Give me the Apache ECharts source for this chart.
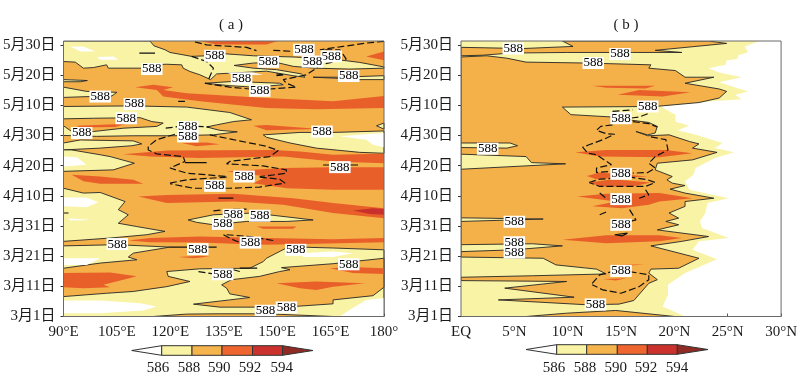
<!DOCTYPE html>
<html><head><meta charset="utf-8">
<script src="https://cdn.jsdelivr.net/npm/echarts@6/dist/echarts.min.js"></script>
<style>html,body{margin:0;padding:0;background:#fff}#c{width:800px;height:386px}</style>
</head><body><div id="c"></div>
<script>
// every pair is [longitude or latitude, days since 1 March]
const dayTicks=[0,10,20,30,40,50,60,70,80,90];
const dayLabels=['3月1日','3月11日','3月21日','3月31日','4月10日','4月20日','4月30日','5月10日','5月20日','5月30日'];
const lonTicks=[90,105,120,135,150,165,180];
const lonLabels=['90°E','105°E','120°E','135°E','150°E','165°E','180°'];
const latTicks=[0,5,10,15,20,25,30];
const latLabels=['EQ','5°N','10°N','15°N','20°N','25°N','30°N'];
const barTicks=['586','588','590','592','594'];

const yellowA=[
[[90,91.3],[114.3,91.3],[115.4,89.7],[118.5,88.4],[119.9,87.5],[126,86.2],[130.2,86.4],[134.9,87.1],[143.3,86.4],[154.5,86],[165.7,85.3],[173.2,84.2],[180,82.7],[180,82.3],[170.4,82],[160.6,82.3],[154.5,82.9],[149.8,84.2],[143.3,84],[137.9,83.2],[143.3,82.3],[149.8,81.8],[156.8,80.4],[157.8,79.3],[154.5,79.8],[147,81.3],[140.9,80.9],[133,80.4],[131.3,78.5],[128.3,80.1],[125.5,81.2],[123.6,82.3],[123.2,83.4],[119,83.6],[114.3,83.4],[112,82.3],[102.6,82.3],[102.1,83.4],[98.4,82.5],[95.6,82.3],[93.3,84.3],[90,84.5]],
[[129.7,77.3],[137.7,77.9],[150.7,77.3],[151.7,76.8],[143.3,76],[136.7,76.5]],
[[160.1,79.3],[167.6,79.3],[180,79.8],[180,78.5],[172.7,78.5],[167.6,78.9]],
[[90,78.5],[96.7,78.2],[94.7,77.8],[90,77.8]],
[[90,76],[96.5,74.6],[105,74.3],[103.6,73.1],[97.5,72.9],[90,72.6]],
[[90,69.6],[109.6,69.8],[124.6,69.4],[136.7,67.6],[142.8,65.2],[137.7,64.6],[133,63.5],[130.2,62.8],[133.9,61.7],[138.8,61.2],[132.1,60.2],[120.8,59.9],[109.6,59.9],[99.3,59.7],[90,60]],
[[90,57.5],[94.7,58.5],[109.6,58.2],[112,57.2],[109.2,56.6],[100.3,55.8],[90,55.2]],
[[90,55.2],[92.3,55.2],[100.3,53.6],[103.1,53],[109.9,50.8],[104,48.6],[90,48.1]],
[[146.1,60.2],[156.4,61],[165.7,61],[180,61.5],[180,54.1],[173.2,54.4],[161,55.8],[153.6,57.5],[147,59.4]],
[[177.9,63.2],[180,64.1],[180,62.1]],
[[90,42.5],[95.6,40.9],[100.3,41.1],[107.3,38.1],[105.4,35.4],[108.2,33.7],[105.4,30.9],[110.6,29.8],[118.5,28.2],[113.4,27.1],[103.1,26],[90,24.9]],
[[125,32],[132.1,33.7],[143.3,34.3],[160.1,32],[152.6,31.5],[141.4,31.5],[132.1,30.4],[127.4,31.2]],
[[90,23.4],[105,23.8],[119.9,23],[109.6,21],[108.2,19.7],[110.6,18.8],[100.3,17.7],[90,16]],
[[180,22.1],[165.7,22.7],[156.4,23],[152.6,22.7],[147,19.3],[146.1,18.2],[142.3,16],[128.3,15.8],[119,14.9],[119.4,13.3],[125.5,11.6],[119,9.9],[109.6,8.3],[102.1,7.7],[90,6.6],[90,0],[180,0]]
];
const whiteA=[
[[91.9,89.5],[95.6,89.5],[98.9,87.8],[94.7,87.8]],
[[99.3,86],[104,86.2],[105.4,85.1],[100.3,85.1]],
[[135.8,80.9],[143.3,80.9],[146.1,80.1],[137.7,80]],
[[167.6,59.7],[176.9,60.6],[180,60.8],[180,56.1],[176.9,56.9],[175,58.6]],
[[90,53],[93.7,52.8],[96.5,50.3],[90,49.7]],
[[90,39.4],[96.5,39.4],[99.8,37.9],[96.5,36.2],[90,36.5]],
[[91.4,32.6],[97.9,32],[91.9,31.8]],
[[90,19.3],[100.3,19.3],[96.5,17.1],[90,17.1]],
[[156.4,21],[165.7,21.5],[171.3,21],[165.7,19.7],[157.3,19.7]],
[[90,5.3],[100.3,5.3],[111.5,4.4],[116.2,3.3],[112.4,2],[100.3,1.1],[90,1.1]],
[[170.4,2.2],[175,5.5],[180,6.1],[180,0],[167.6,0]]
];
const orangeA=[
[[90,65.5],[98.4,65.7],[111.5,65.9],[114.8,64.6],[118,64.1],[116.2,63],[106.8,62.4],[98.4,61.3],[92.3,61.3],[90,63.2]],
[[151.2,16.2],[165.7,17.5],[180,19.3],[180,9.7],[176.9,6.9],[165.7,5.5],[165.7,4.2],[154.5,3.3],[143.3,3.1],[133.9,3.1],[126.5,4.1],[136.7,5.5],[142.3,6.3],[136.7,7.5],[135.8,9.4],[134.4,10.5],[137.2,12.2],[145.1,13.3],[150.7,14.9],[153.6,15.5]],
[[115.2,0],[124.6,0.8],[133.9,0.9],[147,0.9],[165.7,0]]
];
const redA=[
[[128.3,91.3],[150.3,91.3],[147,90.1],[133,90.1]],
[[175,86.2],[180,87.8],[180,84.9]],
[[110.1,76],[115.2,76.8],[120.8,76],[118,75.1],[124.6,74],[147,72.4],[165.7,71.3],[180,73.1],[180,69.1],[161,68.7],[147,69.1],[128.3,71.3],[118,72.9],[116.2,75.1]],
[[93.7,63.2],[107.8,63.9],[104.5,62.8],[94.7,62.6]],
[[143.3,63.2],[147,63.5],[162,62.1],[147,61.7]],
[[123.2,57.5],[130.2,57.7],[133.9,57.1],[127.4,56.4]],
[[106.8,53.8],[119,55],[148.9,55.2],[156.4,54.7],[165.7,53.6],[180,53.9],[180,50.8],[165.7,51.4],[151.7,53],[128.3,52.5],[114.3,53]],
[[135.8,48.1],[151.7,49.2],[165.7,49.5],[180,49.5],[180,42],[165.7,42],[152.6,42.5],[143.3,44.2],[147,46.4]],
[[92.3,47],[100.3,46.4],[109.6,45.3],[112.4,44],[100.3,44],[95.6,44.8]],
[[111,39.8],[119,40.3],[137.7,40.7],[154.5,39.2],[165.7,37.6],[180,35.9],[180,32.6],[165.7,34.3],[151.7,37],[137.7,38.1],[119,37.6]],
[[144.2,29.8],[155.4,29.8],[154.5,29.1],[146.1,29.1]],
[[108.2,25.2],[114.3,26],[128.3,26.5],[147,26],[165.7,25.6],[180,26],[180,24.6],[161,24.1],[147,23.8],[137.7,24.1],[128.3,24.5],[114.3,24.6]],
[[122.2,19.7],[128.3,20.1],[131.1,19.9],[126.5,19.3]],
[[90,14.4],[103.1,14.6],[110.6,13.3],[106.8,12.2],[101.2,10.5],[103.1,9.7],[95.6,9.4],[90,9.7]],
[[164.8,16],[170.4,16.4],[180,16],[180,14.1],[171.3,14.4]],
[[149.8,11],[161,11.6],[174.6,11],[165.7,9.9],[161,8.8],[156.4,9.4]]
];
const darkA=[[[171.3,35.1],[176.9,35.9],[180,35.6],[180,33.7],[176,34]]];
const dashedA=[
[[126.9,91],[130.2,90],[141.4,89.2],[144.2,88.1]],
[[148.9,88.2],[155.4,87.8]],
[[180,91.2],[175,90.6],[168.5,89.5],[162,88.4],[167.6,88.4],[169.4,85.3],[162,83.4],[161,82.3],[158.2,80.1],[151.7,78.5],[152.6,77.3],[155.4,76],[147.9,75.4]],
[[126,86.2],[130.2,84.5],[132.1,82.3],[130.7,78.5]],
[[129.7,77.3],[136.7,76],[142.3,75.4]],
[[118.7,62.4],[122.7,63]],
[[127.4,63],[131.1,62.8]],
[[121.3,60.4],[116.2,58.6],[113.8,56.4],[113.8,55.2],[116.2,53.9],[123.6,53],[124.1,51.4],[119.9,49.2],[124.6,47.5],[135.8,46.4]],
[[131.1,60.2],[137.7,58.6],[147,56.4],[150.3,55],[147.9,53],[136.7,51.4],[135.8,50.6],[146.1,49.9],[152.6,48.6],[152.6,47.5],[147,46.6],[145.1,46.4]],
[[119.9,44.2],[124.6,45.3],[135.8,46.2]],
[[145.1,46.2],[150.7,45.5],[152.2,44.2],[145.1,42.9],[136.7,42.5],[126.5,42.5],[119.9,44]],
[[132.1,35],[134.9,35.4],[141.4,35.6]],
[[134.9,27.1],[137.7,25.4],[140,24.3]],
[[135.8,27.1],[142.3,26.5],[149.3,25.1]],
[[127.9,14.9],[132.1,14.1]],
[[137.7,15.5],[139.5,14.9]]
];
const solidA=[
[[149.8,80.4],[151.7,80.1],[149.8,79.8]],
[[111.3,87.3],[115.7,87.3]],
[[122.2,71.3],[124.1,71.3]],
[[124.1,51],[130.2,51]],
[[162.9,50.2],[172.7,50.2]],
[[133.5,39.2],[137.7,39.2]],
[[90,34.3],[91.4,34.3]],
[[119.9,23],[133,23]],
[[139.5,16],[144.4,16]]
];
const labelsA=[[132.5,86.4],[157.5,88.4],[165.2,86.2],[159.9,84.5],[147.5,84.4],[114.8,82],[140,78.8],[145.1,74.8],[170.1,79.7],[100.3,72.9],[109.9,70.4],[107.6,65.7],[95.1,60.8],[124.9,62.8],[124.9,59.7],[162.6,61.3],[167.6,49.5],[140.7,46.4],[132.5,43.3],[137.7,33.7],[145.1,33.4],[134.7,30.7],[142.5,24.5],[105.1,24],[127.7,22.3],[155.2,22.1],[170.1,17.3],[134.7,14],[146.7,1.9],[152.6,3]];

const yellowB=[
[[0,0],[0,91.3],[28,91.3],[26.6,89.5],[26.9,87.5],[26,86.7],[25.9,85.3],[24.9,84.9],[24.8,83.4],[23.2,82.3],[24.2,80.9],[26.3,79.3],[24.2,77.6],[26.9,74.6],[25.7,73.5],[26.3,72],[23.5,71.3],[18.7,69.6],[20.1,66.9],[20.1,64.6],[21.4,63.2],[20.3,61.7],[22,60.2],[24.5,57.5],[23.8,55.8],[25.6,54.4],[23.8,52.5],[22,49.2],[21.8,47],[21,44.8],[21.4,42],[25.1,39.2],[23.1,37.6],[22.9,34.3],[22.4,31.5],[22.6,29.3],[25.1,26],[22.3,24.9],[21.7,22.1],[24,19],[21,14.4],[19.4,10.5],[19.4,7.2],[18.9,3.3],[21,0]]
];
const orangeB=[
[[0,89.2],[5.8,88.8],[10.5,89.5],[9.5,91.3],[23.2,91.3],[24.9,90.5],[18.2,88.2],[20.7,87.5],[16.1,87.5],[9.9,87.5],[4.6,87.3],[2.1,86.6],[0,86.4]],
[[0,86],[2.4,86.4],[4.3,85.6],[6.1,84.3],[11.7,84],[17.8,83.4],[17.6,82.3],[20.1,81.5],[21,79.3],[23.7,79.3],[21,77.3],[24.2,75.4],[24.9,74.6],[24.2,72.4],[22.3,70.9],[18.2,69.6],[9.5,69.4],[10.3,66.9],[14.2,66.1],[16.1,65],[17.6,64.3],[18.4,63],[18.2,60.8],[17.5,60.2],[16.4,61.3],[17.5,59.9],[19.5,60.2],[21.4,58],[22.3,57.2],[21.7,55.8],[24,54.4],[21.7,51.9],[18.4,50.8],[18.2,48.6],[19.8,46.4],[19.3,45.3],[19.8,44.2],[21,43.4],[19.6,42.2],[21,40.9],[23.7,39.2],[21,38.1],[21,36.5],[19.5,34.3],[20.4,32.6],[19.2,31.5],[20.4,30.4],[18.4,28.7],[23.2,26.5],[20.7,24.9],[17.8,23.4],[22.3,19.3],[20.4,16],[17.8,15.7],[17.6,14.4],[18.4,12.2],[17.6,11],[16.2,5.3],[14.8,4.1],[11.7,3.9],[3.5,5.5],[10.6,6.4],[4.1,9.4],[9.9,11.6],[0,11.9],[0,13],[6.7,13.5],[13.6,14.1],[12.7,15.7],[8.9,17.1],[7.7,19.3],[0,19.7]],
[[6.1,0],[9.9,1.1],[14.5,2],[19.2,0.3],[20,0]]
];
const lensB=[
[[0,32.7],[7.7,32.3],[0,31.5]],
[[0,23.8],[6.7,24.1],[9.5,23.4],[4.9,22.1],[0,21.5]],
[[0,57.5],[4.6,57.5],[5.3,56.6],[4.3,55.8],[0,56]],
[[0,53.8],[6.1,53],[6.6,51],[9.8,50.6],[0,48.8]]
];
const redB=[
[[12.3,76.5],[18.2,76.5],[17.3,75.6],[13.6,75.8]],
[[14.7,73.5],[16.7,75.1],[21.5,74.3],[18.9,72.9]],
[[10.7,54.4],[13.6,55.2],[19.2,55.2],[21.7,54.1],[18.6,52.8],[13,53]],
[[11.8,46.6],[13,47.7],[17.5,46.4],[14.2,45.9],[12.7,45.5]],
[[12,44.4],[14.2,45.5],[17.8,44.4],[16.1,43.1],[13,43.1]],
[[10.9,39.8],[13.6,40.7],[18.6,40.9],[21.7,39.2],[18.6,38.1],[17.6,37],[15.1,35.9],[12.3,36.5],[14.5,38.1]],
[[9.5,25.4],[13.6,26.9],[18.6,26.9],[20.7,26],[18.6,24.9],[13.6,24.3]],
[[14.8,17.1],[17.2,17.3],[15.1,16.6]],
[[13.3,12.4],[15.5,12.7],[14.5,11.9]]
];
const dashedB=[
[[14.2,68],[16.1,68.5]],
[[17.5,67.2],[16.7,66.1],[15.8,65.7]],
[[14.2,63.5],[13.1,63],[12.7,61.7],[13.6,60.6],[14.4,60.4],[13.3,58.6],[12,56.9],[11.4,56.1],[11.9,54.1],[12.7,53.6],[14.1,50.3],[12.7,49.2],[12.7,47.7],[14.1,48.1]],
[[16.1,64.6],[17.6,63.9],[18.4,62.8]],
[[17.8,59.5],[19.2,58.6],[19.4,55.2],[18.2,53],[17.6,50.8],[18.2,49.2],[17.5,47.7],[16.1,47.5]],
[[12,44.4],[13,45.5],[15.8,46.2],[17.5,45.3],[18.2,44.4],[17.3,43.1],[13,43.1],[12,44.4]],
[[13,40.9],[13.6,39.2]],
[[17.3,42],[17.6,40.3],[16.7,39.2]],
[[13,33.7],[13.7,34.8]],
[[15.8,35.4],[16.4,32],[15.8,31.5]],
[[12.3,11],[13,13.8],[14.2,14.9]],
[[15.8,14.9],[17.6,13.8],[17.6,12.2],[16.7,9.9],[15,7.7],[13.3,8.8],[12.3,10.5]]
];
const solidB=[[[14.4,27.1],[15.6,27.6],[15.1,26.7],[14.4,27.1]]];
const labelsB=[[4.9,88.8],[14.9,87],[12.4,84],[17.5,69.6],[15,65.7],[2.5,55.6],[15,47.3],[15,38.9],[5,31.4],[15,30.4],[5,24.6],[5,21.2],[15,15.1],[12.6,4]];

const YELLOW='#F9F3A5',ORANGE='#F4B149',RED='#E95F2A',DARK='#C9302B',INK='#262626';
const FONT='"Liberation Serif","Noto Sans CJK SC",serif';
const TOP=91.3;

let zc=2;
function polys(list,fill,stroke,ax){
  return {type:'custom',coordinateSystem:'cartesian2d',xAxisIndex:ax,yAxisIndex:ax,z:zc++,silent:true,clip:true,
    animation:false,encode:{x:0,y:1},
    data:list.map(p=>p[0]),
    renderItem:(params,api)=>({type:'polygon',
      shape:{points:list[params.dataIndex].map(p=>api.coord(p))},
      style:{fill:fill,stroke:stroke||null,lineWidth:stroke?0.9:0}})};
}
function lines(list,dash,width,ax){
  return list.map(l=>({type:'line',xAxisIndex:ax,yAxisIndex:ax,data:l,showSymbol:false,symbol:'none',z:50,silent:true,animation:false,
    lineStyle:{color:'#111',width:width,type:dash?[7,3]:'solid'}}));
}
function labels(list,ax){
  return {type:'scatter',xAxisIndex:ax,yAxisIndex:ax,data:list,symbolSize:1,itemStyle:{color:'rgba(0,0,0,0)',opacity:1},z:60,silent:true,animation:false,
    label:{show:true,position:'inside',formatter:'588',color:'#000',fontFamily:FONT,fontSize:13,backgroundColor:'#fff',padding:[0,1,0,1],lineHeight:12},
    labelLayout:{hideOverlap:false}};
}
function frame(x0,x1,ax){
  return {type:'line',xAxisIndex:ax,yAxisIndex:ax,data:[[x0,0],[x1,0],[x1,TOP],[x0,TOP],[x0,0]],symbol:'none',clip:false,z:70,silent:true,animation:false,
    lineStyle:{color:'#6a6a6a',width:1}};
}
function xAxis(i,min,max,ticks,names){
  return {type:'value',gridIndex:i,min:min,max:max,splitLine:{show:false},
    axisLine:{show:false},
    axisTick:{show:true,inside:true,length:3,customValues:ticks,lineStyle:{color:'#555'}},
    axisLabel:{customValues:ticks,margin:8,color:'#1a1a1a',fontFamily:FONT,fontSize:15,formatter:v=>names[ticks.indexOf(v)]||''}};
}
function yAxis(i,margin){
  return {type:'value',gridIndex:i,min:0,max:TOP,splitLine:{show:false},
    axisLine:{show:false},
    axisTick:{show:true,length:3,customValues:dayTicks,lineStyle:{color:'#333'}},
    axisLabel:{customValues:dayTicks,margin:margin,color:'#1a1a1a',fontFamily:FONT,fontSize:15,formatter:v=>dayLabels[dayTicks.indexOf(v)]||''}};
}
function colorbar(x,tip0,tip1,y0,y1,labelX){
  const cols=[YELLOW,'#F6B44C','#EF6530','#CC322D'],g=[];
  const ym=(y0+y1)/2;
  g.push({type:'polygon',shape:{points:[[tip0,ym],[x[0],y0],[x[0],y1]]},style:{fill:'#fff',stroke:'#333',lineWidth:1}});
  cols.forEach((c,i)=>g.push({type:'rect',shape:{x:x[i],y:y0,width:x[i+1]-x[i],height:y1-y0},style:{fill:c,stroke:'#333',lineWidth:1}}));
  g.push({type:'polygon',shape:{points:[[tip1,ym],[x[4],y0],[x[4],y1]]},style:{fill:'#8F2A25',stroke:'#333',lineWidth:1}});
  barTicks.forEach((t,i)=>g.push({type:'text',x:labelX[i],y:368,style:{text:t,fill:'#1a1a1a',font:'15px '+FONT,textAlign:'center',textVerticalAlign:'middle'}}));
  return g;
}

const series=[
  polys(yellowA,YELLOW,INK,0),polys(whiteA,'#fff',null,0),polys(orangeA,ORANGE,INK,0),
  polys(redA,RED,null,0),polys(darkA,DARK,null,0),
  ...lines(dashedA,true,1.2,0),...lines(solidA,false,1.2,0),labels(labelsA,0),frame(90,180,0),
  polys(yellowB,YELLOW,null,1),polys(orangeB,ORANGE,INK,1),polys(lensB,YELLOW,INK,1),polys(redB,RED,null,1),
  ...lines(dashedB,true,1.2,1),...lines(solidB,false,1.2,1),labels(labelsB,1),frame(0,30,1)
];

const chart=echarts.init(document.getElementById('c'),null,{renderer:'canvas'});
chart.setOption({
  animation:false,backgroundColor:'#fff',
  title:[
    {text:'( a )',left:226,top:13,textAlign:'center',textStyle:{fontFamily:FONT,fontSize:15,fontWeight:'normal',color:'#1a1a1a'}},
    {text:'( b )',left:621,top:13,textAlign:'center',textStyle:{fontFamily:FONT,fontSize:15,fontWeight:'normal',color:'#1a1a1a'}}
  ],
  grid:[
    {left:63,top:41,width:321,height:275.5,show:true,backgroundColor:ORANGE,borderWidth:0},
    {left:461,top:41,width:321.5,height:275.5,show:true,backgroundColor:'#fff',borderWidth:0}
  ],
  xAxis:[xAxis(0,90,180,lonTicks,lonLabels),xAxis(1,0,30,latTicks,latLabels)],
  yAxis:[yAxis(0,8),yAxis(1,8)],
  series:series,
  graphic:[
    ...colorbar([161.7,192,222,252.5,282.5],131.7,313,345.7,355.3,[158,189,219.3,250,281.7]),
    ...colorbar([556.7,586.7,617.3,647.3,677.3],526,708,344.7,354.3,[554,585,615.7,646,677])
  ]
});
</script></body></html>
